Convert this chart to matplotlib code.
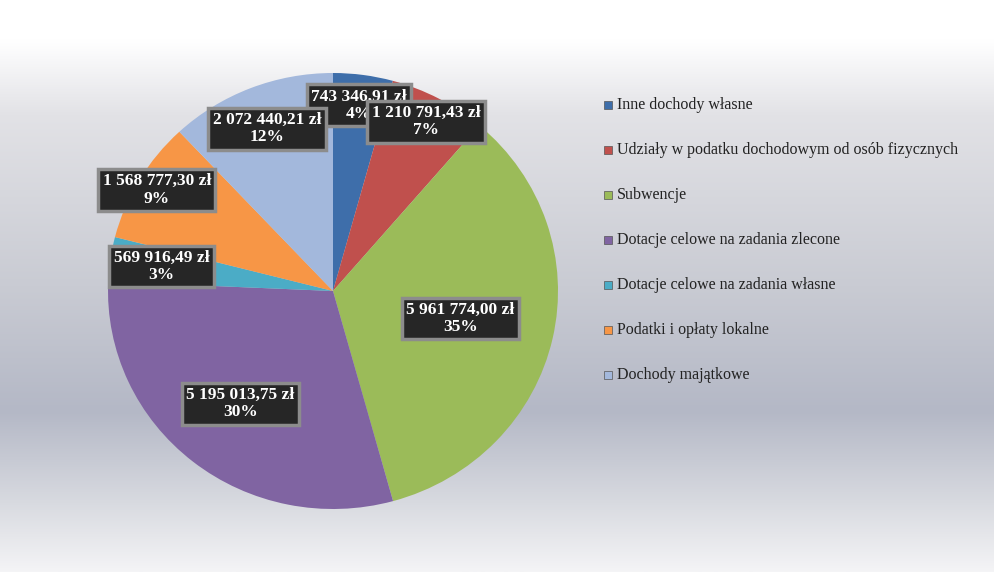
import numpy as np
import matplotlib
matplotlib.use("Agg")
import matplotlib.pyplot as plt
from matplotlib.colors import LinearSegmentedColormap

categories = ["Inne dochody własne",
              "Udziały w podatku dochodowym od osób fizycznych",
              "Subwencje",
              "Dotacje celowe na zadania zlecone",
              "Dotacje celowe na zadania własne",
              "Podatki i opłaty lokalne",
              "Dochody majątkowe"]
values = [743346.91, 1210791.43, 5961774.00, 5195013.75, 569916.49, 1568777.30, 2072440.21]
value_labels = ["743 346,91 zł", "1 210 791,43 zł", "5 961 774,00 zł", "5 195 013,75 zł",
                "569 916,49 zł", "1 568 777,30 zł", "2 072 440,21 zł"]
pct_labels = ["4%", "7%", "35%", "30%", "3%", "9%", "12%"]

colors = ["#3e6eaa", "#c0504d", "#9bbb59", "#8064a2", "#4bacc6", "#f79646", "#a3b8dc"]
label_r = [0.86, 0.88, 0.58, 0.66, 0.77, 0.91, 0.80]

W, H = 994, 572
fig = plt.figure(figsize=(W/100, H/100), dpi=100)

bg = fig.add_axes([0, 0, 1, 1])
bg.axis("off")
cmap = LinearSegmentedColormap.from_list("bg", [
    (0.0, "#ffffff"), (0.07, "#ffffff"), (0.2, "#e2e2e6"), (0.5, "#c9cbd3"),
    (0.72, "#b4b8c6"), (0.88, "#d8dae0"), (1.0, "#f4f4f6")])
grad = np.linspace(0, 1, 256).reshape(-1, 1)
bg.imshow(grad, aspect="auto", cmap=cmap, extent=[0, 1, 0, 1], origin="upper")
bg.set_xlim(0, 1); bg.set_ylim(0, 1)

cx, cy, rx, ry = 333, 291, 225, 218
ax = fig.add_axes([(cx - rx)/W, (H - cy - ry)/H, 2*rx/W, 2*ry/H])
wedges, _ = ax.pie(values, colors=colors, startangle=90, counterclock=False,
                   wedgeprops=dict(edgecolor="none"))
ax.set_aspect("auto")
ax.set_xlim(-1, 1); ax.set_ylim(-1, 1)

tot = sum(values)
ang = 90.0
for w, v, vl, pl, lr in zip(wedges, values, value_labels, pct_labels, label_r):
    span = v / tot * 360
    mid = np.deg2rad(ang - span/2)
    ang -= span
    ax.text(lr*np.cos(mid), lr*np.sin(mid), vl + "\n" + pl, ha="center", va="center",
            color="white", fontsize=12.5, fontweight="bold", family="Liberation Serif",
            linespacing=1.1, zorder=5,
            bbox=dict(boxstyle="square,pad=0.25", facecolor="#262626",
                      edgecolor="#8c8c8c", linewidth=2.5))

y0, dy = 105, 45
for i, (c, name) in enumerate(zip(colors, categories)):
    y = y0 + i*dy
    fig.patches.append(plt.Rectangle((604/W, (H - y - 4)/H), 8/W, 8/H,
                                     facecolor=c, edgecolor="#555555", lw=0.5,
                                     transform=fig.transFigure))
    fig.text(617/W, (H - y)/H, name, ha="left", va="center", fontsize=11.5,
             family="Liberation Serif", color="#222222")

fig.savefig("out.png", dpi=100)
